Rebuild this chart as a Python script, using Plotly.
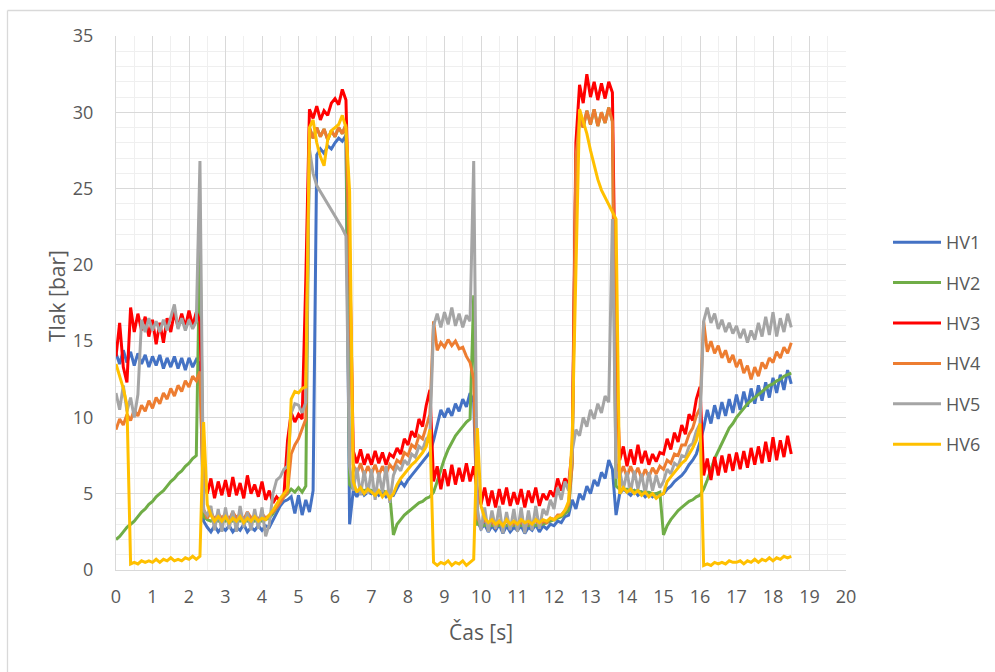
import plotly.graph_objects as go

# time axis: samples every 0.1 s from 0.0 to 18.5 s
time_s = [round(0.1 * i, 1) for i in range(186)]

hv1 = [
    14.2, 13.5, 14.4, 13.6, 14.3, 13.4, 14.2, 13.5, 14.1, 13.3,
    14.0, 13.4, 14.1, 13.2, 13.9, 13.3, 14.0, 13.2, 13.9, 13.1,
    13.9, 13.3, 13.8, 13.5, 3.2, 2.8, 2.5, 2.9, 2.5, 2.8,
    2.6, 2.9, 2.5, 2.8, 2.6, 3.0, 2.5, 2.8, 2.6, 2.9,
    2.6, 2.9, 2.8, 3.3, 3.8, 4.2, 4.5, 4.6, 4.8, 3.7,
    4.9, 3.6, 4.6, 3.8, 5.2, 27.2, 27.6, 27.3, 27.8, 27.6,
    28.0, 28.3, 28.1, 28.5, 3.0, 5.2, 4.8, 5.3, 4.9, 5.1,
    5.0, 5.2, 4.9, 5.1, 4.8, 5.0, 4.9, 5.4, 5.8, 5.5,
    5.9, 6.2, 6.5, 6.8, 7.1, 7.4, 7.7, 8.5, 9.6, 10.5,
    10.0, 10.6, 10.1, 10.9, 10.4, 11.2, 10.7, 11.6, 11.0, 3.2,
    2.7, 3.0, 2.5, 2.9, 2.6, 3.0, 2.4, 2.9, 2.5, 2.8,
    2.6, 2.9, 2.4, 2.8, 2.6, 3.0, 2.5, 2.9, 2.7, 3.0,
    2.9, 3.2, 3.1, 3.5, 3.6, 4.6, 4.0, 5.0, 4.6, 5.5,
    5.0, 5.9, 5.5, 6.4, 6.0, 7.2, 6.6, 3.6, 5.0, 5.3,
    5.1, 4.9, 5.2, 4.9, 5.1, 4.8, 5.0, 4.8, 5.0, 4.9,
    5.0, 5.3, 5.5, 5.8, 6.0, 6.2, 6.5, 6.9, 7.2, 7.6,
    8.4, 9.3, 10.5, 9.6, 10.8, 9.9, 11.0, 10.1, 11.2, 10.3,
    11.5, 10.5, 11.7, 10.7, 11.9, 10.9, 12.1, 11.1, 12.3, 11.3,
    12.6, 11.6, 12.8, 11.8, 13.1, 12.2,
]

hv2 = [
    2.0, 2.2, 2.5, 2.8, 3.0, 3.2, 3.5, 3.8, 4.0, 4.3,
    4.5, 4.8, 5.0, 5.2, 5.5, 5.8, 6.0, 6.3, 6.5, 6.8,
    7.0, 7.3, 7.5, 22.0, 3.5, 3.3, 3.2, 3.3, 3.2, 3.3,
    3.2, 3.3, 3.2, 3.3, 3.2, 3.3, 3.2, 3.3, 3.2, 3.3,
    3.2, 3.3, 3.4, 3.7, 4.1, 4.5, 4.8, 5.0, 5.3, 5.1,
    5.4, 5.1, 5.5, 29.0, 28.3, 29.0, 28.4, 28.9, 28.2, 28.8,
    28.4, 29.0, 28.6, 29.2, 5.6, 5.3, 5.2, 5.3, 5.2, 5.3,
    5.2, 5.2, 5.1, 5.2, 5.1, 5.0, 2.3, 3.0, 3.3, 3.6,
    3.8, 4.0, 4.2, 4.4, 4.5, 4.7, 4.8, 5.1, 5.8, 6.6,
    7.3, 7.9, 8.4, 8.8, 9.1, 9.4, 9.7, 9.9, 18.0, 3.0,
    3.0, 2.9, 3.0, 2.9, 3.0, 2.9, 3.0, 2.9, 3.0, 2.9,
    3.0, 2.9, 3.0, 2.9, 3.0, 2.9, 3.0, 3.0, 3.1, 3.2,
    3.3, 3.4, 3.5, 3.7, 3.9, 7.0, 27.0, 29.6, 29.0, 30.1,
    29.2, 30.2, 29.1, 30.0, 29.3, 30.3, 29.4, 5.5, 5.3, 5.3,
    5.3, 5.2, 5.2, 5.2, 5.1, 5.1, 5.1, 5.0, 5.0, 5.1,
    2.3, 2.9, 3.3, 3.6, 3.9, 4.1, 4.3, 4.5, 4.6, 4.8,
    4.9, 5.3, 5.9, 6.6, 7.3, 7.8, 8.3, 8.8, 9.3, 9.6,
    10.0, 10.3, 10.6, 10.9, 11.1, 11.3, 11.5, 11.7, 11.9, 12.1,
    12.2, 12.4, 12.5, 12.7, 12.8, 12.9,
]

hv3 = [
    14.0, 16.2, 13.3, 12.3, 17.2, 15.6, 16.8, 15.7, 16.6, 15.3,
    16.4, 14.8, 16.2, 14.9, 16.5, 15.6, 16.9, 15.9, 16.8, 15.9,
    17.0, 16.0, 16.9, 16.3, 6.2, 5.0, 6.0, 4.7, 5.8, 4.9,
    5.9, 4.8, 6.1, 4.9, 5.7, 4.7, 6.2, 5.0, 5.6, 4.8,
    5.8, 4.6, 5.2, 4.4, 4.8, 4.5, 4.9, 8.5, 10.3, 9.7,
    10.2, 9.9, 19.0, 30.2, 29.6, 30.4, 29.5, 30.1, 29.8, 30.6,
    30.9, 30.5, 31.5, 30.8, 21.0, 7.8, 7.0, 7.9, 6.9, 7.6,
    6.9, 7.8, 7.0, 7.7, 6.9, 7.6, 7.4, 8.0, 7.6, 8.6,
    8.2, 9.1, 8.7, 9.9, 9.4, 10.8, 11.8, 5.8, 6.8, 5.3,
    6.6, 5.5, 6.9, 5.6, 6.7, 5.8, 7.0, 5.8, 6.8, 5.2,
    4.3, 5.4, 4.2, 5.2, 4.1, 5.3, 4.3, 5.4, 4.2, 5.1,
    4.3, 5.3, 4.1, 5.2, 4.4, 5.4, 4.2, 5.0, 4.6, 5.2,
    4.8, 6.0, 5.2, 6.0, 5.6, 8.0, 28.0, 31.8, 30.6, 32.5,
    31.0, 32.0, 30.8, 31.9, 30.9, 32.0, 31.3, 14.0, 7.2, 8.1,
    6.8, 7.9, 6.9, 8.2, 7.0, 7.8, 6.9, 7.6, 7.1, 7.7,
    7.6, 8.6, 7.9, 9.0, 8.4, 9.5, 8.9, 10.2, 9.8, 11.2,
    12.0, 6.2, 7.3, 5.9, 7.4, 6.2, 7.5, 6.4, 7.6, 6.5,
    7.7, 6.6, 7.8, 6.7, 8.0, 6.9, 8.1, 7.0, 8.4, 7.1,
    8.7, 7.2, 8.5, 7.4, 8.8, 7.6,
]

hv4 = [
    9.2, 9.9, 9.5, 10.2, 9.8, 10.5, 10.1, 10.8, 10.4, 11.1,
    10.6, 11.3, 10.9, 11.6, 11.2, 11.9, 11.4, 12.1, 11.7, 12.4,
    12.0, 12.7, 12.4, 13.0, 4.0, 3.4, 3.8, 3.3, 3.7, 3.4,
    3.7, 3.3, 3.8, 3.4, 3.7, 3.3, 3.8, 3.4, 3.6, 3.3,
    3.7, 3.4, 3.6, 3.8, 4.1, 4.4, 4.8, 5.1, 7.6, 8.2,
    8.6, 9.2, 9.9, 29.0, 28.3, 29.0, 28.4, 28.9, 28.2, 28.8,
    28.4, 29.0, 28.6, 29.2, 20.0, 6.9, 6.3, 7.0, 6.2, 6.8,
    6.3, 6.9, 6.2, 6.8, 6.3, 6.9, 6.6, 7.2, 7.0, 7.7,
    7.5, 8.2, 8.0, 8.8, 8.6, 9.4, 10.2, 16.3, 14.4, 14.9,
    14.6, 15.1, 14.7, 15.0, 14.5, 14.6, 14.0, 13.6, 12.5, 3.4,
    3.0, 3.3, 2.9, 3.2, 2.8, 3.2, 2.9, 3.3, 2.8, 3.1,
    2.9, 3.2, 2.8, 3.1, 3.0, 3.3, 2.9, 3.2, 3.1, 3.4,
    3.3, 3.6, 3.6, 3.9, 4.3, 7.0, 27.0, 29.6, 29.0, 30.1,
    29.2, 30.2, 29.1, 30.0, 29.3, 30.3, 29.4, 7.0, 6.2, 6.8,
    6.1, 6.8, 6.2, 6.7, 6.0, 6.6, 6.1, 6.7, 6.3, 6.8,
    6.6, 7.2, 7.0, 7.6, 7.5, 8.2, 8.2, 8.9, 9.3, 10.1,
    10.6, 16.3, 14.3, 15.0, 14.2, 14.7, 13.9, 14.4, 13.6, 14.1,
    13.3, 13.8, 12.9, 13.4, 12.5, 13.3, 12.7, 13.6, 13.2, 13.9,
    13.6, 14.3, 13.9, 14.6, 14.2, 14.9,
]

hv5 = [
    11.6, 10.5, 12.1, 10.4, 11.3, 10.0, 11.5, 16.4, 15.6, 16.5,
    15.7, 16.3, 15.6, 16.4, 15.7, 16.6, 17.4, 15.8, 16.5, 15.7,
    16.4, 15.8, 16.3, 26.8, 3.9, 3.6, 4.2, 2.6, 4.0, 2.5,
    4.1, 2.7, 3.9, 2.5, 4.2, 2.8, 3.8, 2.6, 4.0, 2.7,
    4.1, 2.2, 3.0, 5.0, 5.9, 6.1, 6.6, 6.8, 10.3, 10.9,
    10.8, 10.3, 11.0, 27.6, 26.0, 25.2, 24.8, 24.4, 24.0, 23.6,
    23.2, 22.8, 22.4, 21.9, 6.8, 5.2, 6.7, 4.9, 6.5, 5.0,
    6.6, 4.6, 6.4, 5.1, 6.8, 4.4, 6.2, 6.8, 6.5, 7.2,
    6.9, 7.6, 7.4, 8.1, 7.9, 8.6, 8.8, 16.0, 16.8, 15.9,
    16.9, 16.1, 17.2, 16.0, 16.8, 15.9, 16.7, 16.3, 26.8, 4.0,
    2.6, 4.1, 2.5, 3.9, 2.7, 4.2, 2.4, 3.8, 2.6, 4.0,
    2.5, 4.1, 2.4, 3.9, 2.6, 4.2, 2.7, 4.0, 3.6, 4.6,
    4.0, 5.4, 4.6, 5.8, 5.2, 7.8, 9.2, 8.8, 10.0, 9.4,
    10.5, 9.9, 10.9, 10.3, 11.4, 11.0, 23.0, 6.0, 6.5, 5.3,
    6.4, 5.1, 6.5, 5.3, 6.3, 5.0, 6.4, 5.2, 6.2, 5.4,
    5.8, 6.6, 6.3, 7.0, 6.8, 7.5, 7.4, 8.1, 8.3, 9.1,
    9.6, 16.3, 17.2, 16.2, 16.8, 15.8, 16.4, 15.6, 16.2, 15.5,
    16.0, 15.2, 15.8, 14.9, 15.7, 15.1, 16.2, 15.3, 16.6, 15.4,
    16.9, 15.3, 16.5, 15.6, 16.8, 15.9,
]

hv6 = [
    13.5, 12.7, 11.9, 10.8, 0.4, 0.5, 0.4, 0.6, 0.5, 0.6,
    0.5, 0.7, 0.5, 0.7, 0.6, 0.8, 0.6, 0.7, 0.6, 0.8,
    0.7, 0.9, 0.7, 0.9, 9.7, 4.3, 3.6, 3.2, 3.5, 3.2,
    3.5, 3.1, 3.4, 3.2, 3.5, 3.1, 3.4, 3.2, 3.5, 3.2,
    3.4, 3.3, 3.6, 3.9, 4.3, 4.7, 5.0, 5.3, 11.2, 11.7,
    11.6, 11.9, 12.0, 29.0, 29.5, 28.0, 27.1, 26.5, 28.2, 28.8,
    29.0, 29.2, 29.8, 29.0, 24.8, 5.8, 5.1, 5.4, 5.0, 5.3,
    5.1, 4.9, 5.2, 4.8, 5.1, 4.7, 5.0, 5.6, 6.0, 6.3,
    6.6, 6.9, 7.1, 7.4, 7.7, 8.1, 9.2, 0.5, 0.3, 0.5,
    0.4, 0.6, 0.3, 0.5, 0.4, 0.6, 0.3, 0.5, 0.7, 9.3,
    4.2, 3.4, 3.1, 3.3, 3.0, 3.2, 2.9, 3.3, 3.0, 3.2,
    3.0, 3.3, 3.1, 3.2, 3.0, 3.3, 3.1, 3.3, 3.2, 3.4,
    3.3, 3.5, 3.6, 3.9, 4.5, 8.8, 20.0, 30.2, 29.4, 28.6,
    27.5, 26.6, 25.6, 24.9, 24.4, 24.0, 23.5, 23.0, 5.0, 5.4,
    5.1, 5.3, 5.0, 5.2, 4.9, 5.1, 4.8, 5.0, 4.7, 4.9,
    5.0, 5.8, 6.1, 6.4, 6.7, 7.0, 7.2, 7.6, 8.0, 8.5,
    9.6, 0.3, 0.4, 0.3, 0.5, 0.4, 0.5, 0.4, 0.6, 0.5,
    0.5, 0.6, 0.4, 0.6, 0.5, 0.7, 0.5, 0.7, 0.6, 0.8,
    0.6, 0.8, 0.7, 0.9, 0.8, 0.9,
]

series_names = ["HV1", "HV2", "HV3", "HV4", "HV5", "HV6"]
series_values = [hv1, hv2, hv3, hv4, hv5, hv6]
series_colors = ["#4472C4", "#70AD47", "#FF0000", "#ED7D31", "#A5A5A5", "#FFC000"]

x_ticks = list(range(0, 21))
y_ticks = [0, 5, 10, 15, 20, 25, 30, 35]
x_title = "Čas [s]"
y_title = "Tlak [bar]"

FONT = "Open Sans"
GREY_TXT = "#595959"

fig = go.Figure()
for name, vals, col in zip(series_names, series_values, series_colors):
    assert len(vals) == len(time_s), name
    fig.add_trace(go.Scatter(
        x=time_s, y=vals, name=name, mode="lines",
        line=dict(color=col, width=3),
        legendgroup=name,
    ))

# plot area pixel geometry
L, R, T, B = 116, 846, 36, 570
W, H = 995, 672


def px_x(p):
    return (p - L) / (R - L)


def px_y(p):
    return (B - p) / (B - T)


fig.update_layout(
    width=W, height=H,
    margin=dict(l=L, r=W - R, t=T, b=H - B, autoexpand=False),
    paper_bgcolor="white", plot_bgcolor="white",
    font=dict(family=FONT, size=18, color=GREY_TXT),
    showlegend=True,
    legend=dict(
        x=px_x(888), y=px_y(224), xanchor="left", yanchor="top",
        font=dict(family=FONT, size=18, color=GREY_TXT),
        tracegroupgap=14, itemwidth=48, bgcolor="rgba(0,0,0,0)",
    ),
    xaxis=dict(
        range=[0, 20], tickvals=x_ticks, ticktext=[str(v) for v in x_ticks],
        showgrid=True, gridcolor="#d9d9d9", gridwidth=1.3,
        minor=dict(dtick=0.5, showgrid=True, gridcolor="#efefef", gridwidth=1),
        zeroline=False, showline=True, linecolor="#d9d9d9", linewidth=1.3,
        ticks="", ticklabelstandoff=10,
        tickfont=dict(family=FONT, size=18, color=GREY_TXT),
    ),
    yaxis=dict(
        range=[0, 35], tickvals=y_ticks, ticktext=[str(v) for v in y_ticks],
        showgrid=True, gridcolor="#d9d9d9", gridwidth=1.3,
        minor=dict(dtick=1, showgrid=True, gridcolor="#efefef", gridwidth=1),
        zeroline=False, showline=True, linecolor="#d9d9d9", linewidth=1.3,
        ticks="", ticklabelstandoff=18,
        tickfont=dict(family=FONT, size=18, color=GREY_TXT),
    ),
    annotations=[
        dict(text=x_title, xref="paper", yref="paper", x=px_x(481), y=px_y(632),
             xanchor="center", yanchor="middle", showarrow=False,
             font=dict(family=FONT, size=21, color=GREY_TXT)),
        dict(text=y_title, xref="paper", yref="paper", x=px_x(57), y=px_y(296),
             xanchor="center", yanchor="middle", showarrow=False, textangle=-90,
             font=dict(family=FONT, size=21, color=GREY_TXT)),
    ],
    shapes=[
        dict(type="line", xref="paper", yref="paper",
             x0=px_x(7.5), x1=px_x(W + 5), y0=px_y(10.5), y1=px_y(10.5),
             line=dict(color="#d9d9d9", width=1.3), layer="below"),
        dict(type="line", xref="paper", yref="paper",
             x0=px_x(7.5), x1=px_x(7.5), y0=px_y(10.5), y1=px_y(H + 5),
             line=dict(color="#d9d9d9", width=1.3), layer="below"),
    ],
)

fig.write_html("out.html", config={"displayModeBar": False},
               post_script="document.body.style.margin='0px';")
